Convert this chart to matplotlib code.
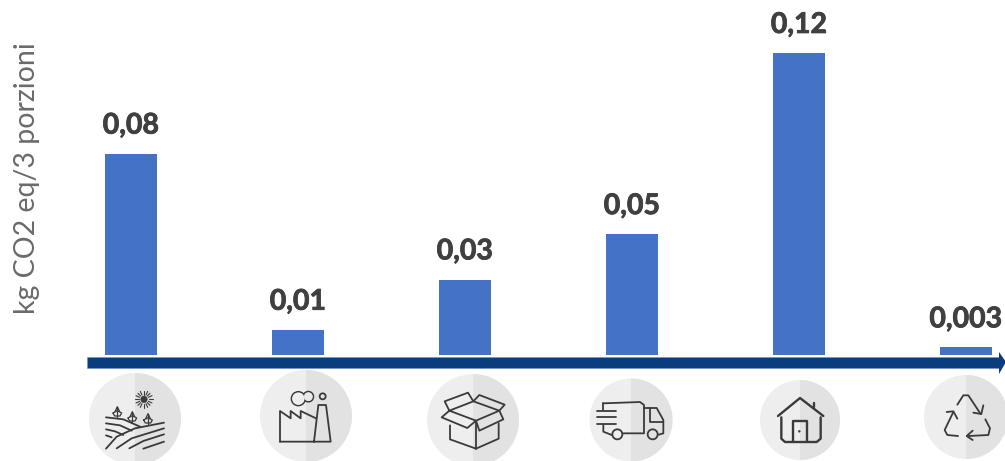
import matplotlib
matplotlib.use('Agg')
import matplotlib.pyplot as plt
import matplotlib.patheffects as pe
from matplotlib.patches import Circle, Wedge, Polygon, Rectangle

# values
stages = [0, 1, 2, 3, 4, 5]
values = [0.08, 0.01, 0.03, 0.048, 0.12, 0.003]
labels = ['0,08', '0,01', '0,03', '0,05', '0,12', '0,003']
ylabel = 'kg CO2 eq/3 porzioni'

W, H = 1005, 461
plt.rcParams['font.family'] = ['Lato', 'DejaVu Sans']

fig = plt.figure(figsize=(W / 100, H / 100), dpi=100)

# chart axes, baseline sits just above the arrow
ax = fig.add_axes([47.5 / W, (H - 355) / H, (W - 47.5) / W, 355 / H])
ax.bar(stages, values, width=52 / 167, color='#4472C4')
ax.set_xlim(-0.5, 5 + 39 / 167)
ax.set_ylim(0, 355 / 2516)
ax.axis('off')
for x, v, s in zip(stages, values, labels):
    ax.annotate(s, (x, v), xytext=(0, 14.5), textcoords='offset points', ha='center',
                va='baseline', fontsize=20.5, fontweight='bold', color='#404040', annotation_clip=False,
                path_effects=[pe.withStroke(linewidth=0.6, foreground='#404040')])

# overlay in pixel coordinates for arrow and icons
ov = fig.add_axes([0, 0, 1, 1], zorder=3)
ov.set_xlim(0, W)
ov.set_ylim(H, 0)
ov.axis('off')
ov.patch.set_alpha(0)

ov.add_patch(Rectangle((87, 357), 914, 11, fc='#0A3D7E', ec='#6F93C8', lw=0.4))
ov.add_patch(Polygon([(999, 352), (1006, 362), (999, 374)], color='#0A3D7E', lw=0))

ov.text(27, 178, ylabel, rotation=90, ha='center', va='center', fontsize=20.5, color='#6A6A6A')

circles = [(135, 419, 46), (306, 416, 46), (473, 420, 46), (631, 420, 41.5), (800, 420, 40), (966, 417, 42)]
for cx, cy, r in circles:
    ov.add_patch(Circle((cx, cy), r, color='#EEEEEE', lw=0))
    ov.add_patch(Wedge((cx, cy), r, -90, 90, color='#E2E2E2', lw=0))

ICON = '#3A3A3A'


def z1(pts):
    return [(x / 3 + 60, y / 3 + 340) for x, y in pts]


def z2(pts):
    return [(x / 3 + 540, y / 3 + 340) for x, y in pts]


def line(pts, lw=1.3):
    xs, ys = zip(*pts)
    ov.plot(xs, ys, color=ICON, lw=lw, solid_capstyle='round', solid_joinstyle='round')


def ring(x, y, r, lw=1.3, fill='none'):
    ov.add_patch(Circle((x, y), r, fc=fill, ec=ICON, lw=lw, zorder=3))


# field
ring(*z1([(252, 178)])[0], 3.2, lw=0.5, fill=ICON)
rays = [((252, 164), (252, 152)), ((252, 192), (252, 204)), ((238, 178), (226, 178)), ((266, 178), (278, 178)),
        ((242, 168), (234, 160)), ((262, 188), (270, 196)), ((242, 188), (234, 196)), ((262, 168), (270, 160)),
        ((246, 165), (241, 154)), ((258, 165), (263, 154)), ((246, 191), (241, 202)), ((258, 191), (263, 202)),
        ((239, 172), (228, 167)), ((239, 184), (228, 189)), ((265, 172), (276, 167)), ((265, 184), (276, 189))]
for a, b in rays:
    line(z1([a, b]), 0.8)
line(z1([(138, 232), (190, 238), (240, 260)]))
line(z1([(138, 250), (180, 256), (215, 272)]))
line(z1([(138, 268), (165, 274), (190, 285)]))
line(z1([(138, 286), (155, 292)]))
line(z1([(138, 326), (170, 290), (225, 265), (312, 248)]))
line(z1([(170, 325), (215, 295), (312, 265)]))
line(z1([(208, 325), (250, 303), (312, 283)]))
line(z1([(250, 326), (312, 305)]))
for px, py in [(172, 217), (217, 232), (264, 238)]:
    line(z1([(px, py + 14), (px, py - 15)]), 0.9)
    line(z1([(px - 13, py + 2), (px - 8, py + 11), (px + 8, py + 11), (px + 13, py + 2), (px, py - 5), (px - 13, py + 2)]), 0.9)
    line(z1([(px - 7, py - 2), (px, py - 17), (px + 7, py - 2)]), 0.9)

# factory
line(z1([(660, 305), (660, 213), (692, 235), (692, 213), (722, 235), (722, 213), (768, 235)]))
line(z1([(660, 305), (812, 305), (798, 195), (775, 195), (762, 305)]))
# cloud outline: two rings, then their insides painted over so they merge
ring(*z1([(715, 176)])[0], 6.8)
ring(*z1([(745, 170)])[0], 5)
ov.add_patch(Circle(z1([(715, 176)])[0], 6.2, color='#EEEEEE', lw=0, zorder=3))
ov.add_patch(Circle(z1([(745, 170)])[0], 4.4, color='#EAEAEA', lw=0, zorder=3))
ring(*z1([(788, 169)])[0], 3)

# box
line(z1([(1170, 256), (1170, 298), (1248, 326), (1316, 296), (1316, 250)]))
line(z1([(1248, 326), (1248, 242)]))
line(z1([(1168, 212), (1240, 184), (1318, 212), (1248, 242), (1168, 212)]))
line(z1([(1168, 212), (1145, 232), (1222, 264), (1248, 242), (1258, 272), (1330, 238), (1318, 212)]))
line(z1([(1168, 212), (1154, 184), (1224, 158), (1240, 184), (1258, 165), (1334, 194), (1318, 212)]))

# truck
line(z2([(190, 190), (300, 186), (312, 195), (312, 280), (250, 280)]))
line(z2([(190, 190), (190, 210)]))
line(z2([(190, 255), (190, 275), (215, 285)]))
line(z2([(172, 212), (228, 212)]))
line(z2([(172, 232), (228, 232)]))
line(z2([(172, 252), (228, 252)]))
line(z2([(312, 204), (350, 204), (370, 240), (370, 280), (356, 284)]))
line(z2([(330, 204), (330, 245), (368, 245)]))
ring(*z2([(232, 283)])[0], 5)
ring(*z2([(338, 283)])[0], 5)

# house
line(z2([(714, 228), (780, 174), (850, 228)]), 1.7)
line(z2([(822, 200), (822, 188)]), 1.7)
line(z2([(724, 232), (724, 296), (735, 306), (830, 306), (842, 296), (842, 232)]), 1.7)
line(z2([(760, 304), (760, 244), (802, 244), (802, 304)]), 1.7)
ov.add_patch(Circle(z2([(778, 274)])[0], 1.2, color=ICON, lw=0))

# recycle
line(z2([(1252, 194), (1270, 166), (1285, 166), (1322, 222)]))
line(z2([(1300, 218), (1324, 222), (1330, 196)]))
line(z2([(1336, 238), (1350, 265), (1345, 285), (1285, 288)]))
line(z2([(1298, 272), (1280, 288), (1298, 300)]))
line(z2([(1254, 288), (1222, 285), (1214, 270), (1240, 216)]))
line(z2([(1220, 216), (1240, 214), (1252, 236)]))

fig.savefig('out.png', dpi=100)
